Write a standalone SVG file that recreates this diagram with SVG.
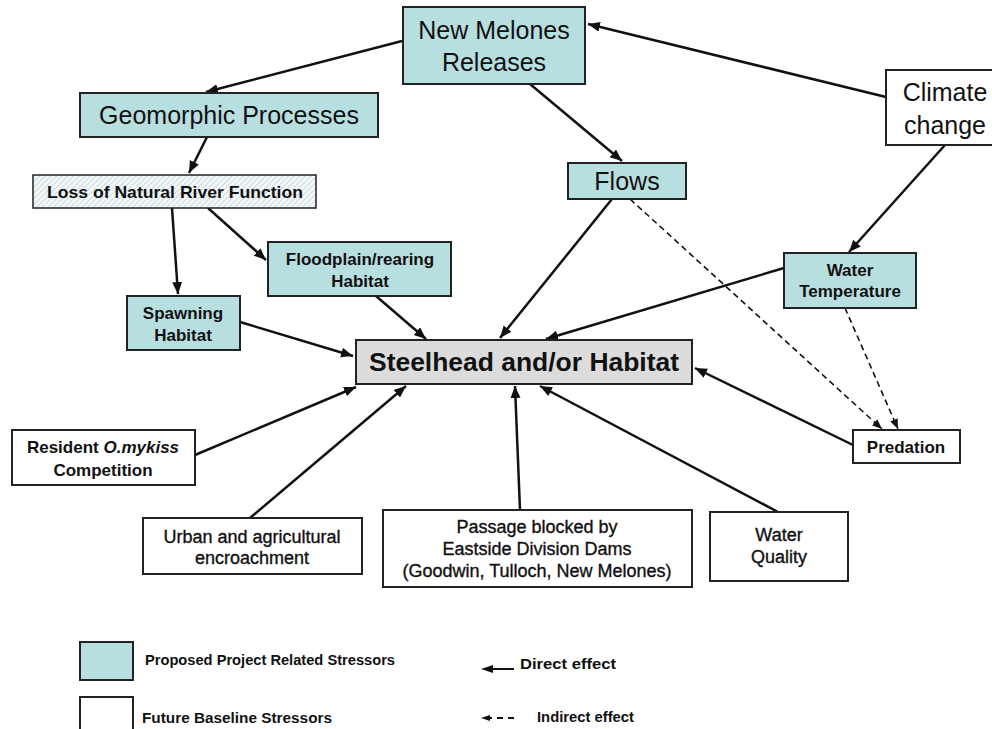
<svg xmlns="http://www.w3.org/2000/svg" width="992" height="729" viewBox="0 0 992 729">
<style>
text{font-family:"Liberation Sans",Arial,sans-serif;fill:#111;text-anchor:middle}
.teal{fill:#b8dfe0;stroke:#222;stroke-width:2}
.white{fill:#fff;stroke:#222;stroke-width:2}
.grey{fill:#dcdcdc;stroke:#222;stroke-width:2}
.big{font-size:25px}
.b17{font-size:17px;font-weight:bold}
.r18{font-size:18px;stroke:#111;stroke-width:0.35}
.leg{font-size:14px;font-weight:bold;text-anchor:start}
.d{stroke:#111;stroke-width:2.5;fill:none;marker-end:url(#ah)}
.i{stroke:#111;stroke-width:1.6;fill:none;stroke-dasharray:6 4;marker-end:url(#ah2)}
</style>
<defs>
<marker id="ah" markerUnits="userSpaceOnUse" markerWidth="14" markerHeight="12" refX="12" refY="5" orient="auto"><path d="M0,0 L12,5 L0,10 Z" fill="#111"/></marker>
<marker id="ah2" markerUnits="userSpaceOnUse" markerWidth="12" markerHeight="10" refX="10" refY="4" orient="auto"><path d="M0,0 L10,4 L0,8 Z" fill="#111"/></marker>
<pattern id="hatch" patternUnits="userSpaceOnUse" width="4" height="4" patternTransform="rotate(45)"><rect width="4" height="4" fill="#f4f8f9"/><line x1="0" y1="0" x2="0" y2="4" stroke="#b9d2d6" stroke-width="1.5"/></pattern>
</defs>
<rect width="992" height="729" fill="#fff"/>
<g id="connectors">
<line class="d" x1="402" y1="41" x2="206" y2="92"/>
<line class="d" x1="886" y1="97" x2="588" y2="24"/>
<line class="d" x1="207" y1="137" x2="189" y2="173"/>
<line class="d" x1="530" y1="84" x2="622" y2="161"/>
<line class="d" x1="172" y1="208" x2="178" y2="294"/>
<line class="d" x1="208" y1="208" x2="266" y2="260"/>
<line class="d" x1="945" y1="145" x2="849" y2="252"/>
<line class="d" x1="376" y1="296" x2="426" y2="339"/>
<line class="d" x1="612" y1="199" x2="500" y2="338"/>
<line class="d" x1="784" y1="268" x2="546" y2="339"/>
<line class="d" x1="240" y1="322" x2="353" y2="356"/>
<line class="d" x1="195" y1="455" x2="356" y2="387"/>
<line class="d" x1="250" y1="518" x2="406" y2="386"/>
<line class="d" x1="520" y1="510" x2="515" y2="386"/>
<line class="d" x1="778" y1="512" x2="540" y2="386"/>
<line class="d" x1="853" y1="445" x2="695" y2="368"/>
<line class="i" x1="630" y1="199" x2="882" y2="429"/>
<line class="i" x1="845" y1="308" x2="898" y2="429"/>
</g>
<g id="new-melones"><rect class="teal" x="403" y="7" width="182" height="77"/><text class="big" x="494" y="39">New Melones</text><text class="big" x="494" y="71">Releases</text></g>
<g id="climate"><rect class="white" x="886" y="70" width="120" height="75"/><text class="big" x="945" y="101">Climate</text><text class="big" x="945" y="134">change</text></g>
<g id="geomorphic"><rect class="teal" x="80" y="93" width="298" height="44"/><text class="big" x="229" y="124">Geomorphic Processes</text></g>
<g id="loss"><rect x="33" y="175" width="283" height="33" fill="url(#hatch)" stroke="#222" stroke-width="1.5"/><text class="b17" x="175" y="198" textLength="256" lengthAdjust="spacingAndGlyphs">Loss of Natural River Function</text></g>
<g id="flows"><rect class="teal" x="568" y="163" width="118" height="36"/><text class="big" x="627" y="190">Flows</text></g>
<g id="floodplain"><rect class="teal" x="268" y="242" width="183" height="54"/><text class="b17" x="360" y="265">Floodplain/rearing</text><text class="b17" x="360" y="287">Habitat</text></g>
<g id="spawning"><rect class="teal" x="127" y="296" width="113" height="54"/><text class="b17" x="183" y="319">Spawning</text><text class="b17" x="183" y="341">Habitat</text></g>
<g id="water-temperature"><rect class="teal" x="784" y="253" width="132" height="55"/><text class="b17" x="850" y="276">Water</text><text class="b17" x="850" y="297">Temperature</text></g>
<g id="steelhead"><rect class="grey" x="356" y="340" width="336" height="44"/><text x="524" y="371" font-size="25" font-weight="bold" textLength="310" lengthAdjust="spacingAndGlyphs">Steelhead and/or Habitat</text></g>
<g id="predation"><rect class="white" x="853" y="430" width="107" height="33"/><text class="b17" x="906" y="453">Predation</text></g>
<g id="resident"><rect class="white" x="12" y="430" width="183" height="55"/><text class="b17" x="103" y="453">Resident <tspan font-style="italic">O.mykiss</tspan></text><text class="b17" x="103" y="476">Competition</text></g>
<g id="urban"><rect class="white" x="143" y="518" width="219" height="56"/><text class="r18" x="252" y="543">Urban and agricultural</text><text class="r18" x="252" y="564">encroachment</text></g>
<g id="passage"><rect class="white" x="383" y="510" width="309" height="77"/><text class="r18" x="537" y="533">Passage blocked by</text><text class="r18" x="537" y="555">Eastside Division Dams</text><text class="r18" x="537" y="577">(Goodwin, Tulloch, New Melones)</text></g>
<g id="water-quality"><rect class="white" x="710" y="512" width="138" height="69"/><text class="r18" x="779" y="541">Water</text><text class="r18" x="779" y="563">Quality</text></g>
<g id="legend">
<rect class="teal" x="80" y="642" width="53" height="38"/>
<text class="leg" x="145" y="665" textLength="250" lengthAdjust="spacingAndGlyphs" font-size="15">Proposed Project Related Stressors</text>
<rect class="white" x="80" y="697" width="53" height="40"/>
<text class="leg" x="142" y="723" textLength="190" lengthAdjust="spacingAndGlyphs" font-size="15">Future Baseline Stressors</text>
<line x1="514" y1="669" x2="492" y2="669" stroke="#111" stroke-width="2"/><path d="M481,669 L493,665 L493,673 Z" fill="#111"/>
<text class="leg" x="520" y="669" textLength="96" lengthAdjust="spacingAndGlyphs" font-size="15">Direct effect</text>
<line x1="514" y1="718" x2="490" y2="718" stroke="#111" stroke-width="2" stroke-dasharray="6 5"/><path d="M481,718 L490,715 L490,721 Z" fill="#111"/>
<text class="leg" x="537" y="722" textLength="97" lengthAdjust="spacingAndGlyphs" font-size="15">Indirect effect</text>
</g>
</svg>
